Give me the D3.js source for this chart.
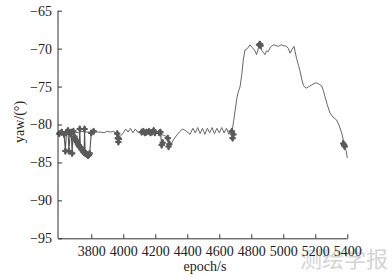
<!DOCTYPE html>
<html><head><meta charset="utf-8">
<script src="https://cdn.jsdelivr.net/npm/d3@7"></script>
<style>body{margin:0;background:#fff}svg{display:block}</style>
</head><body>
<script>
// Main trace (epoch, yaw)
const lineEpochs = [3595,3620,3650,3680,3700,3720,3740,3760,3780,3800,3820,3840,3860,3880,3900,3920,3940,3960,3980,4000,4015,4030,4045,4060,4075,4090,4110,4130,4150,4170,4190,4210,4230,4250,4270,4281,4295,4320,4350,4370,4390,4417,4435,4450,4465,4480,4495,4510,4525,4540,4555,4570,4585,4600,4615,4630,4645,4660,4672,4680,4690,4700,4710,4720,4730,4740,4750,4760,4775,4792,4808,4823,4833,4845,4854,4865,4875,4885,4895,4906,4920,4937,4955,4970,4985,5000,5021,5032,5042,5055,5067,5083,5095,5104,5115,5125,5135,5146,5160,5177,5192,5208,5225,5240,5250,5260,5275,5292,5310,5333,5350,5365,5380,5392,5400];
const lineValues = [-81.0,-80.9,-81.1,-80.9,-81.0,-81.1,-80.9,-81.0,-81.0,-81.1,-80.9,-81.0,-81.0,-81.1,-80.9,-81.0,-80.9,-81.2,-81.6,-81.1,-80.6,-81.0,-80.5,-81.1,-80.6,-81.0,-81.0,-80.8,-81.1,-80.9,-81.2,-80.9,-81.3,-81.4,-81.6,-81.8,-82.7,-81.8,-81.0,-80.6,-80.8,-81.3,-80.5,-81.1,-80.4,-81.2,-80.5,-81.3,-80.5,-81.1,-80.4,-81.2,-80.5,-81.1,-80.4,-81.1,-80.5,-81.3,-80.8,-80.9,-79.5,-78.0,-76.5,-75.6,-75.0,-73.5,-71.5,-70.2,-70.0,-69.5,-69.9,-70.3,-70.8,-69.9,-69.4,-70.2,-70.5,-70.8,-70.3,-70.4,-69.8,-69.5,-69.6,-69.7,-69.5,-69.6,-69.7,-70.0,-70.6,-70.1,-69.7,-71.3,-72.2,-72.9,-74.0,-74.8,-75.1,-75.2,-75.0,-74.8,-74.6,-74.5,-74.7,-74.9,-75.5,-76.3,-77.4,-78.5,-79.0,-79.4,-80.2,-81.1,-82.6,-83.4,-84.4];

// Marked (flagged) epochs; null breaks a segment
const markEpochs = [3600,3615,3630,3638,3645,3655,3660,3668,3675,3680,3688,3695,3700,3705,3710,3715,3720,3725,3728,3732,3736,3740,3745,3750,3755,3758,3762,3766,3770,3775,3780,3785,3790,3800,3815, null,
  3962,3966,3969,3972, null,
  4115,4125,4135,4145,4160,4170,4180,4190,4198, null,
  4225,4232,4240,4246, null,
  4278,4283,4288, null,
  4678,4683,4688, null,
  4850,4854,4858, null,
  5375,5380,5384];
const markValues = [-81.2,-81.0,-81.3,-83.5,-81.0,-80.8,-83.5,-81.2,-81.0,-83.8,-80.9,-81.6,-81.9,-82.1,-82.3,-82.5,-82.7,-82.9,-80.6,-83.0,-83.1,-83.3,-83.4,-83.6,-83.7,-80.6,-83.8,-83.8,-83.9,-84.0,-84.1,-84.0,-83.8,-81.1,-80.9, null,
  -81.2,-81.8,-82.3,-81.9, null,
  -81.0,-80.9,-81.1,-81.0,-80.9,-81.1,-81.0,-80.8,-81.1, null,
  -81.1,-81.0,-82.7,-82.4, null,
  -81.8,-82.9,-82.6, null,
  -80.9,-81.8,-81.3, null,
  -69.5,-69.4,-69.6, null,
  -82.5,-82.7,-82.9];

const xTicks = [3800,4000,4200,4400,4600,4800,5000,5200,5400];
const yTicks = [-95,-90,-85,-80,-75,-70,-65];

const W = 392, H = 278;
const svg = d3.select("body").append("svg").attr("width", W).attr("height", H)
  .style("font-family", "'Liberation Serif','Times New Roman',serif");

const x = d3.scaleLinear().domain([3592, 5400]).range([58, 347.3]);
const y = d3.scaleLinear().domain([-95, -65]).range([238.3, 10.7]);

// watermark
svg.append("text").attr("x", 388).attr("y", 267).attr("text-anchor", "end")
  .attr("font-family", "'Noto Sans CJK SC',sans-serif").attr("font-size", 22)
  .attr("fill", "#d4d4d4").text("测绘学报");

const line = d3.line().defined(d => d[1] != null).x(d => x(d[0])).y(d => y(d[1]));
const mainData = lineEpochs.map((e, i) => [e, lineValues[i]]);
svg.append("path").datum(mainData).attr("d", line)
  .attr("fill", "none").attr("stroke", "#666").attr("stroke-width", 1);

const markData = markEpochs.map((e, i) => [e, markValues[i]]);
svg.append("path").datum(markData).attr("d", line)
  .attr("fill", "none").attr("stroke", "#555").attr("stroke-width", 1.1);
const sym = d3.symbol().type(d3.symbolDiamond).size(18);
const symC = d3.symbol().type(d3.symbolCross).size(22);
const mk = markData.filter(d => d[1] != null);
svg.append("g").selectAll("path.d").data(mk).join("path")
  .attr("transform", d => `translate(${x(d[0])},${y(d[1])})`)
  .attr("d", sym()).attr("fill", "#5a5a5a");
svg.append("g").selectAll("path.c").data(mk).join("path")
  .attr("transform", d => `translate(${x(d[0])},${y(d[1])})`)
  .attr("d", symC()).attr("fill", "#5a5a5a");

// axes
const xAxis = svg.append("g").attr("transform", `translate(0,${y(-95)})`)
  .call(d3.axisBottom(x).tickValues(xTicks).tickSizeInner(-4).tickSizeOuter(0).tickPadding(8).tickFormat(d3.format("d")));
const yAxis = svg.append("g").attr("transform", `translate(${x(3592)},0)`)
  .call(d3.axisLeft(y).tickValues(yTicks).tickSizeInner(-4).tickSizeOuter(0).tickPadding(6).tickFormat(d => "\u2212" + Math.abs(d)));
[xAxis, yAxis].forEach(g => {
  g.selectAll("text").attr("font-size", 14).attr("fill", "#222")
    .style("font-family", "'Liberation Serif','Times New Roman',serif");
  g.selectAll("line,path").attr("stroke", "#333");
});
yAxis.select(".domain").attr("d", `M0,${y(-95)}V${y(-65)}`);

svg.append("text").attr("x", 205).attr("y", 271).attr("text-anchor", "middle")
  .attr("font-size", 14).attr("fill", "#222").text("epoch/s");
svg.append("text").attr("transform", "translate(24,122) rotate(-90)")
  .attr("text-anchor", "middle").attr("font-size", 14).attr("fill", "#222").text("yaw/(°)");
</script>
</body></html>
